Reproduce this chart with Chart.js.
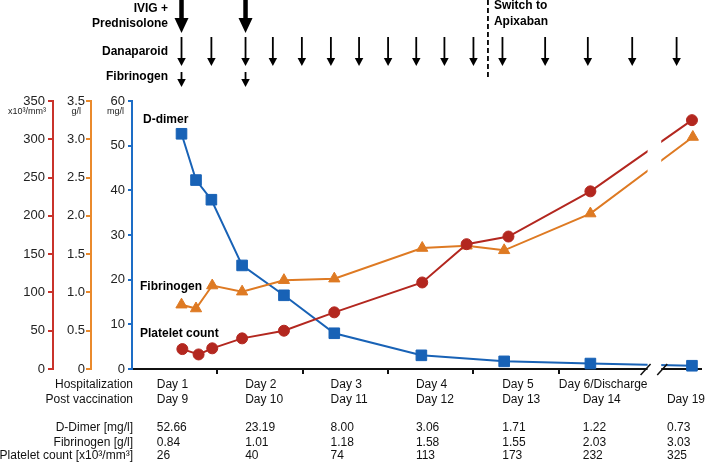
<!DOCTYPE html>
<html>
<head>
<meta charset="utf-8">
<script src="https://cdn.jsdelivr.net/npm/chart.js@4/dist/chart.umd.min.js"></script>
<style>
  body { margin: 0; background: #fff; }
  canvas { display: block; }
</style>
</head>
<body>
<canvas id="chart" width="709" height="462"></canvas>
<script>
// x values are positions on the (broken) time axis, in days since admission
const dDimerX = [0.58, 0.75, 0.93, 1.29, 1.78, 2.37, 3.39, 4.36, 5.37, 6.56];
const dDimerY = [52.66, 42.3, 37.9, 23.19, 16.5, 8.0, 3.06, 1.71, 1.22, 0.73];

const fibX = [0.58, 0.75, 0.94, 1.29, 1.78, 2.37, 3.4, 3.92, 4.36, 5.37, 6.57];
const fibY = [0.84, 0.79, 1.09, 1.01, 1.16, 1.18, 1.58, 1.61, 1.55, 2.03, 3.03];

const pltX = [0.59, 0.78, 0.94, 1.29, 1.78, 2.37, 3.4, 3.92, 4.41, 5.37, 6.56];
const pltY = [26, 19, 27, 40, 50, 74, 113, 163, 173, 232, 325];

// treatments (axis days)
const ivigDays = [0.58, 1.33];
const danaparoidDays = [0.58, 0.93, 1.33, 1.65, 1.99, 2.33, 2.66, 3.0, 3.33, 3.66, 4.0, 4.34, 4.84, 5.34, 5.86, 6.38];
const fibrinogenDays = [0.58, 1.33];
const switchDay = 4.17;
const dayTicks = [1, 2, 3, 4, 5];

// table below the chart
const hospDays = ["Day 1", "Day 2", "Day 3", "Day 4", "Day 5", "Day 6/Discharge", ""];
const postVacDays = ["Day 9", "Day 10", "Day 11", "Day 12", "Day 13", "Day 14", "Day 19"];
const tableDDimer = ["52.66", "23.19", "8.00", "3.06", "1.71", "1.22", "0.73"];
const tableFib = ["0.84", "1.01", "1.18", "1.58", "1.55", "2.03", "3.03"];
const tablePlt = ["26", "40", "74", "113", "173", "232", "325"];
const rowLabels = ["Hospitalization", "Post vaccination", "", "D-Dimer [mg/l]", "Fibrinogen [g/l]", "Platelet count [x10\u00B3/mm\u00B3]"];

// layout
const colX = [0.29, 1.326, 2.326, 3.326, 4.337, 5.28, 6.267];
const hospColX = [0.29, 1.326, 2.326, 3.326, 4.337, 5.0, 6.267];
const rowY = [385, 399.5, 0, 427.5, 442.5, 456];
const breakFrom = 6.04, breakTo = 6.2;

const RED = "#b3271f", ORANGE = "#de7a23", BLUE = "#1862b6";
const RED_AX = "#c9332b", ORANGE_AX = "#ea8a2c", BLUE_AX = "#1d6dc6";
const FONT = "'Liberation Sans', Arial, Helvetica, sans-serif";

function arrow(ctx, x, y0, y1, shaftW, headW, headH) {
  ctx.fillRect(x - shaftW / 2, y0, shaftW, y1 - headH - y0 + 1);
  ctx.beginPath();
  ctx.moveTo(x - headW / 2, y1 - headH);
  ctx.lineTo(x + headW / 2, y1 - headH);
  ctx.lineTo(x, y1);
  ctx.closePath();
  ctx.fill();
}

const annotations = {
  id: "annotations",
  afterDraw(chart) {
    const ctx = chart.ctx;
    const xs = chart.scales.x;
    const px = (v) => xs.getPixelForValue(v);
    const { top, bottom } = chart.chartArea;
    ctx.save();

    // axis break
    const b0 = px(breakFrom), b1 = px(breakTo);
    ctx.fillStyle = "#fff";
    ctx.fillRect(b0, top, b1 - b0, bottom - top + 2);
    ctx.strokeStyle = "#111";
    ctx.lineWidth = 1.5;
    ctx.beginPath();
    ctx.moveTo(b0 - 7, bottom + 6); ctx.lineTo(b0 + 3, bottom - 5);
    ctx.moveTo(b1 - 4, bottom + 6); ctx.lineTo(b1 + 6, bottom - 5);
    ctx.stroke();

    // treatment arrows
    ctx.fillStyle = "#000";
    ivigDays.forEach((d) => arrow(ctx, px(d), 0, 33, 4.5, 14, 15));
    danaparoidDays.forEach((d) => arrow(ctx, px(d), 37, 66, 1.8, 8.5, 8));
    fibrinogenDays.forEach((d) => arrow(ctx, px(d), 72, 87, 1.8, 8.5, 8));

    // switch line
    const sx = px(switchDay);
    ctx.strokeStyle = "#000";
    ctx.lineWidth = 1.8;
    ctx.setLineDash([5, 3]);
    ctx.beginPath();
    ctx.moveTo(sx, 0); ctx.lineTo(sx, 77);
    ctx.stroke();
    ctx.setLineDash([]);

    ctx.font = "bold 12px " + FONT;
    ctx.textBaseline = "middle";
    ctx.textAlign = "right";
    ctx.fillText("IVIG +", 168, 9);
    ctx.fillText("Prednisolone", 168, 24);
    ctx.fillText("Danaparoid", 168, 52);
    ctx.fillText("Fibrinogen", 168, 77);
    ctx.textAlign = "left";
    ctx.fillText("Switch to", sx + 6, 6);
    ctx.fillText("Apixaban", sx + 6, 22);

    // series labels
    ctx.fillText("D-dimer", 143, 120);
    ctx.fillText("Fibrinogen", 140, 287);
    ctx.fillText("Platelet count", 140, 334);

    // axis units
    ctx.font = "9px " + FONT;
    ctx.fillStyle = "#222";
    ctx.textAlign = "right";
    ctx.fillText("x10\u00B3/mm\u00B3", 46, 112);
    ctx.fillText("g/l", 81, 112);
    ctx.fillText("mg/l", 124, 112);

    // table
    ctx.font = "12px " + FONT;
    ctx.fillStyle = "#111";
    ctx.textAlign = "right";
    rowLabels.forEach((t, i) => { if (t) ctx.fillText(t, 133, rowY[i]); });
    ctx.textAlign = "left";
    const rows = [hospDays, postVacDays, null, tableDDimer, tableFib, tablePlt];
    rows.forEach((row, r) => {
      if (!row) return;
      row.forEach((t, c) => {
        const cx = r === 0 ? hospColX[c] : colX[c];
        ctx.fillText(t, px(cx), rowY[r]);
      });
    });
    ctx.restore();
  },
};

function yAxis(color, min, max, step, weight, width, tickLen, pad, fmt) {
  return {
    type: "linear",
    position: "left",
    weight: weight,
    min: min,
    max: max,
    border: { color: color, width: 2 },
    grid: { drawOnChartArea: false, color: color, lineWidth: 2, tickLength: tickLen },
    ticks: {
      stepSize: step,
      padding: pad,
      color: "#222",
      font: { family: FONT, size: 13 },
      callback: fmt,
    },
    afterFit(s) { s.width = width; },
  };
}

new Chart(document.getElementById("chart").getContext("2d"), {
  type: "line",
  data: {
    datasets: [
      {
        label: "Platelet count",
        data: pltX.map((x, i) => ({ x: x, y: pltY[i] })),
        yAxisID: "yP",
        borderColor: RED,
        backgroundColor: RED,
        pointStyle: "circle",
        pointRadius: 5.5,
        pointBorderWidth: 1,
        borderWidth: 2,
        order: 0,
        clip: false,
      },
      {
        label: "Fibrinogen",
        data: fibX.map((x, i) => ({ x: x, y: fibY[i] })),
        yAxisID: "yF",
        borderColor: ORANGE,
        backgroundColor: ORANGE,
        pointStyle: "triangle",
        pointRadius: 6.5,
        pointBorderWidth: 1,
        borderWidth: 2,
        order: 1,
        clip: false,
      },
      {
        label: "D-dimer",
        data: dDimerX.map((x, i) => ({ x: x, y: dDimerY[i] })),
        yAxisID: "yD",
        borderColor: BLUE,
        backgroundColor: BLUE,
        pointStyle: "rect",
        pointRadius: 7.5,
        pointBorderWidth: 1,
        borderWidth: 2,
        order: 2,
        clip: false,
      },
    ],
  },
  options: {
    responsive: false,
    animation: false,
    layout: { padding: { top: 101, right: 3, left: 0, bottom: 0 } },
    plugins: { legend: { display: false }, tooltip: { enabled: false } },
    scales: {
      x: {
        type: "linear",
        min: 0,
        max: 6.66,
        border: { color: "#111", width: 2 },
        grid: { drawOnChartArea: false, color: "#111", lineWidth: 2, tickLength: 5 },
        ticks: { display: false },
        afterBuildTicks(s) { s.ticks = dayTicks.map((v) => ({ value: v })); },
        afterFit(s) { s.height = 93; },
      },
      yP: yAxis(RED_AX, 0, 350, 50, 3, 53, 5, 3, (v) => v),
      yF: yAxis(ORANGE_AX, 0, 3.5, 0.5, 2, 38, 5, 1, (v) => (v === 0 ? "0" : v.toFixed(1))),
      yD: yAxis(BLUE_AX, 0, 60, 10, 1, 41, 4, 3, (v) => v),
    },
  },
  plugins: [annotations],
});
</script>
</body>
</html>
